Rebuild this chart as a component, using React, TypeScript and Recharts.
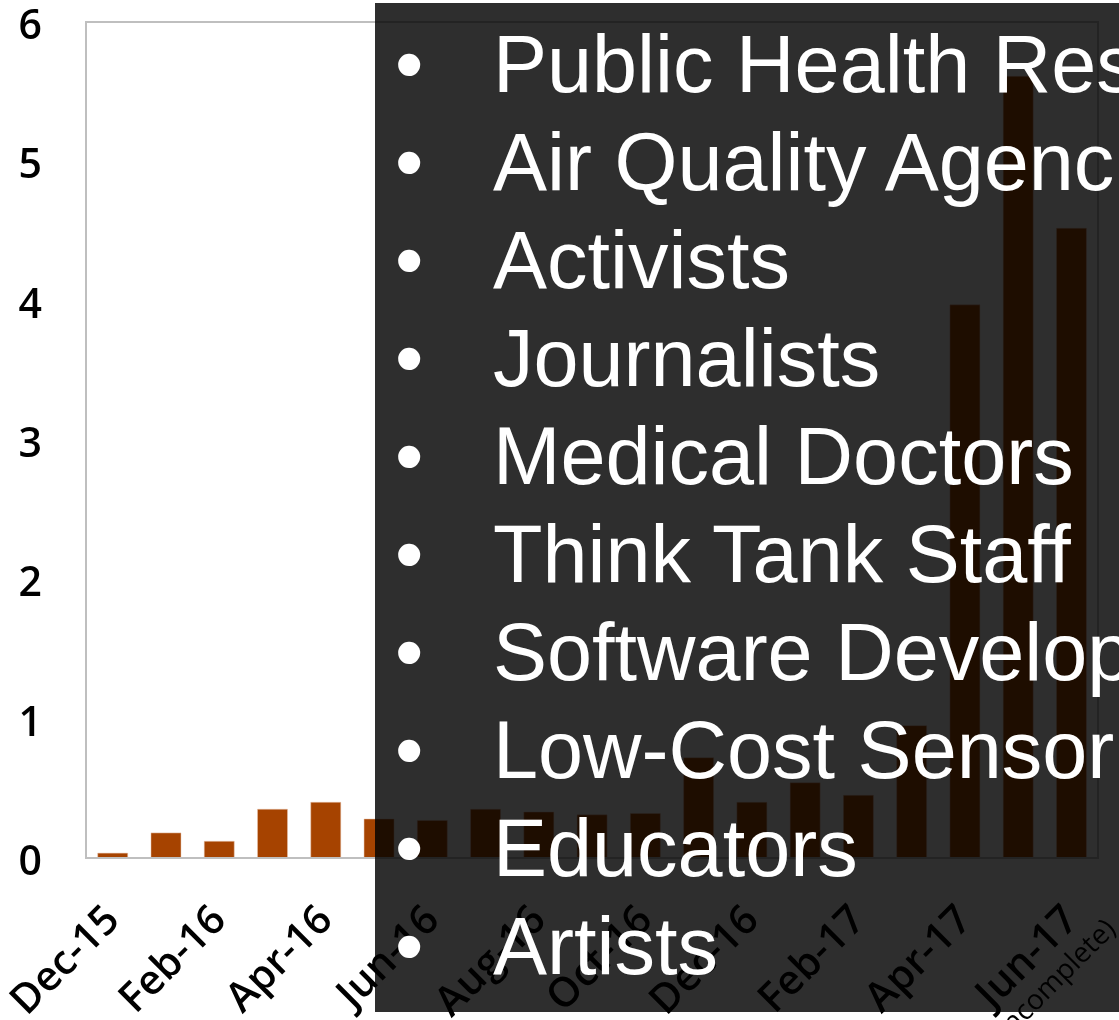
import React from 'react';
import { BarChart, Bar, XAxis, YAxis, ReferenceArea } from 'recharts';

// monthly values
const months = [
  'Dec-15', 'Jan-16', 'Feb-16', 'Mar-16', 'Apr-16', 'May-16', 'Jun-16', 'Jul-16', 'Aug-16', 'Sep-16',
  'Oct-16', 'Nov-16', 'Dec-16', 'Jan-17', 'Feb-17', 'Mar-17', 'Apr-17', 'May-17', 'Jun-17',
];
const values = [
  0.035, 0.18, 0.12, 0.35, 0.4, 0.28, 0.27, 0.35, 0.33, 0.31,
  0.32, 0.72, 0.4, 0.54, 0.45, 0.95, 3.97, 5.61, 4.52,
];
const yTicks = [0, 1, 2, 3, 4, 5, 6];
const audiences = [
  'Public Health Researchers',
  'Air Quality Agencies',
  'Activists',
  'Journalists',
  'Medical Doctors',
  'Think Tank Staff',
  'Software Developers',
  'Low-Cost Sensor Manufacturers',
  'Educators',
  'Artists',
];

const chartData = months.map((m, i) => ({ month: m, value: values[i] }));

const AXIS_FONT = '"Open Sans", "DejaVu Sans", sans-serif';

const YTick = ({ x, y, payload }: any) => (
  <text x={x - 44} y={y} dy={17} textAnchor="end" fontFamily={AXIS_FONT} fontWeight={600} fontSize={41} fill="#000">
    {payload.value}
  </text>
);

const XTick = ({ x, y, payload }: any) => (
  <g transform={`translate(${x + 9},${y + 64})`}>
    <text transform="rotate(-45)" textAnchor="end" fontFamily={AXIS_FONT} fontWeight={600} fontSize={41} fill="#000">
      <tspan x={0} y={0}>{payload.value}</tspan>
      {payload.value === 'Jun-17' && (
        <tspan x={20} y={32} fontSize={28} fontWeight={400}>(incomplete)</tspan>
      )}
    </text>
  </g>
);

export default function App() {
  return (
    <div style={{ position: 'absolute', left: 0, top: 0, width: 1119, height: 1020, overflow: 'hidden', background: '#fff' }}>
      <BarChart
        width={1119}
        height={1020}
        data={chartData}
        margin={{ top: 22, right: 21, left: 26, bottom: 22 }}
        barCategoryGap="22%"
      >
        <XAxis
          dataKey="month"
          interval={1}
          height={140}
          tickSize={0}
          tickMargin={0}
          tickLine={false}
          axisLine={{ stroke: '#bfbfbf', strokeWidth: 2 }}
          tick={<XTick />}
        />
        <YAxis
          domain={[0, 6]}
          ticks={yTicks}
          width={60}
          tickSize={0}
          tickMargin={0}
          tickLine={false}
          axisLine={{ stroke: '#bfbfbf', strokeWidth: 2 }}
          tick={<YTick />}
        />
        <ReferenceArea x1="Dec-15" x2="Jun-17" y1={0} y2={6} fill="none" stroke="#bfbfbf" strokeWidth={2} />
        <Bar dataKey="value" fill="#a64300" stroke="#e8c4ae" strokeWidth={0.5} isAnimationActive={false} />
      </BarChart>

      {/* dark slide box, multiplied over the chart */}
      <div
        style={{
          position: 'absolute', left: 375, top: 3, width: 760, height: 1009,
          background: '#2e2e2e', mixBlendMode: 'multiply',
        }}
      />
      <div
        style={{
          position: 'absolute', left: 375, top: 15, width: 744, height: 997, overflow: 'hidden',
          fontFamily: '"Liberation Sans", Arial, sans-serif', fontSize: 81, lineHeight: '98px', color: '#fff',
          whiteSpace: 'nowrap',
        }}
      >
        {audiences.map((a) => (
          <div key={a} style={{ position: 'relative', height: 98 }}>
            <span style={{ position: 'absolute', left: 20 }}>•</span>
            <span style={{ position: 'absolute', left: 118 }}>{a}</span>
          </div>
        ))}
      </div>
    </div>
  );
}
